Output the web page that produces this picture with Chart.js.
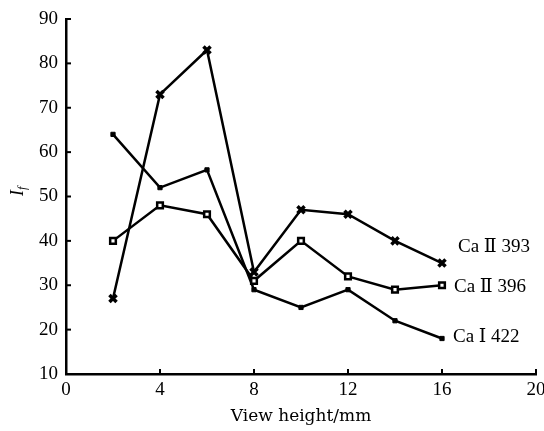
<!DOCTYPE html>
<html><head><meta charset="utf-8">
<script src="https://cdn.jsdelivr.net/npm/chart.js@4/dist/chart.umd.min.js"></script>
<style>html,body{margin:0;padding:0;background:#fff}#w{width:544px;height:431px}</style>
</head><body><div id="w"><canvas id="c" width="544" height="431"></canvas></div>
<script>
const heights = [2, 4, 6, 8, 10, 12, 14, 16];
const caII393 = [27, 73, 83, 33, 47, 46, 40, 35];
const caII396 = [40, 48, 46, 31, 40, 32, 29, 30];
const caI422 = [64, 52, 56, 29, 25, 29, 22, 18];
const seriesNames = ['Ca Ⅱ 393', 'Ca Ⅱ 396', 'Ca Ⅰ 422'];
const xTicks = [0, 4, 8, 12, 16, 20];
const yTicks = [10, 20, 30, 40, 50, 60, 70, 80, 90];
const FONT = '"Liberation Serif", "DejaVu Serif", serif';
const WFONT = '"DejaVu Serif", "Liberation Serif", serif';

const pts = arr => heights.map((h, i) => ({x: h, y: arr[i]}));

const labelPlugin = {
  id: 'extras',
  afterDatasetsDraw(chart) {
    const ctx = chart.ctx, xs = chart.scales.x, ys = chart.scales.y;
    ctx.save();
    ctx.strokeStyle = '#000'; ctx.lineWidth = 2;
    xTicks.forEach(v => { const p = xs.getPixelForValue(v); ctx.beginPath(); ctx.moveTo(p, ys.bottom); ctx.lineTo(p, ys.bottom - 5); ctx.stroke(); });
    yTicks.forEach(v => { const p = ys.getPixelForValue(v); ctx.beginPath(); ctx.moveTo(xs.left, p); ctx.lineTo(xs.left + 5, p); ctx.stroke(); });
    ctx.fillStyle = '#000'; ctx.font = '19px ' + FONT; ctx.textBaseline = 'middle'; ctx.textAlign = 'left';
    const last = [caII393, caII396, caI422];
    const offs = [-16, 2, -1];
    const dx = [16, 12, 11];
    last.forEach((arr, i) => {
      const x = xs.getPixelForValue(heights[heights.length - 1]) + dx[i];
      const y = ys.getPixelForValue(arr[arr.length - 1]) + offs[i];
      ctx.fillText(seriesNames[i], x, y);
    });
    ctx.translate(18, 190); ctx.rotate(-Math.PI / 2);
    ctx.font = 'italic 18px ' + FONT;
    ctx.fillText('I', -6, 0);
    ctx.font = 'italic 12px ' + FONT;
    ctx.fillText('f', 0, 5);
    ctx.restore();
  }
};

new Chart(document.getElementById('c'), {
  type: 'line',
  data: {
    datasets: [
      {label: seriesNames[0], data: pts(caII393), borderColor: '#000', backgroundColor: '#000', borderWidth: 2.5, pointStyle: 'crossRot', pointRadius: 5, pointBorderWidth: 3.5},
      {label: seriesNames[1], data: pts(caII396), borderColor: '#000', backgroundColor: '#fff', borderWidth: 2.5, pointStyle: 'rect', pointRadius: 4, pointBorderWidth: 2.5},
      {label: seriesNames[2], data: pts(caI422), borderColor: '#000', backgroundColor: '#000', borderWidth: 2.5, pointStyle: 'rect', pointRadius: 3, pointBorderWidth: 1}
    ]
  },
  options: {
    responsive: false, animation: false, devicePixelRatio: 1,
    layout: {padding: {top: 19, right: 8, left: 0, bottom: 0}, autoPadding: false},
    plugins: {legend: {display: false}, tooltip: {enabled: false}},
    scales: {
      x: {
        type: 'linear', min: 0, max: 20,
        afterBuildTicks: s => { s.ticks = xTicks.map(v => ({value: v})); },
        afterFit: s => { s.height = 57; s.paddingLeft = 0; s.paddingRight = 0; },
        grid: {display: false, drawTicks: false},
        border: {display: true, color: '#000', width: 2.5},
        ticks: {color: '#000', font: {family: FONT, size: 19}, padding: 5, maxRotation: 0},
        title: {display: true, text: 'View height/mm', color: '#000', font: {family: WFONT, size: 17}, padding: {top: 1}}
      },
      y: {
        type: 'linear', min: 10, max: 90,
        afterBuildTicks: s => { s.ticks = yTicks.map(v => ({value: v})); },
        afterFit: s => { s.width = 66; s.paddingTop = 0; s.paddingBottom = 0; },
        grid: {display: false, drawTicks: false},
        border: {display: true, color: '#000', width: 2.5},
        ticks: {color: '#000', font: {family: FONT, size: 19}, padding: 8}
      }
    }
  },
  plugins: [labelPlugin]
});
</script></body></html>
